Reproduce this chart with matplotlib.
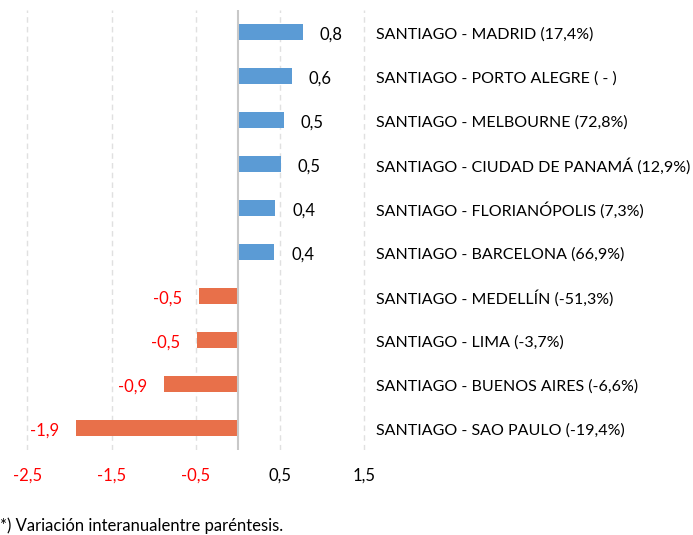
import matplotlib
matplotlib.use("Agg")
import matplotlib.pyplot as plt
import matplotlib.transforms as mtransforms

# rows top -> bottom
routes = ["SANTIAGO - MADRID (17,4%)", "SANTIAGO - PORTO ALEGRE ( - )",
          "SANTIAGO - MELBOURNE (72,8%)", "SANTIAGO - CIUDAD DE PANAMÁ (12,9%)",
          "SANTIAGO - FLORIANÓPOLIS (7,3%)", "SANTIAGO - BARCELONA (66,9%)",
          "SANTIAGO - MEDELLÍN (-51,3%)", "SANTIAGO - LIMA (-3,7%)",
          "SANTIAGO - BUENOS AIRES (-6,6%)", "SANTIAGO - SAO PAULO (-19,4%)"]
values = [0.77, 0.64, 0.54, 0.51, 0.44, 0.43, -0.46, -0.49, -0.88, -1.92]
xticks = [-2.5, -1.5, -0.5, 0.5, 1.5]

BLUE = "#5B9BD5"
ORANGE = "#E8704A"
RED = "#FF0000"
FS = 11.5

plt.rcParams["font.family"] = ["Lato", "DejaVu Sans"]

fig = plt.figure(figsize=(6.93, 5.35), dpi=100)
ax = fig.add_axes([0.0271, 0.1589, 0.511, 0.8224])

y = range(len(values))
colors = [BLUE if v >= 0 else ORANGE for v in values]
ax.barh(y, values, height=0.36, color=colors, zorder=2)

# route names sit at a fixed figure x, row-aligned in data y
route_tf = mtransforms.blended_transform_factory(fig.transFigure, ax.transData)
for i, v in enumerate(values):
    txt = f"{v:.1f}".replace(".", ",")
    if v >= 0:
        ax.annotate(txt, (v, i), xytext=(17, -3), textcoords="offset pixels",
                    ha="left", va="center", fontsize=FS + 0.5, color="black")
    else:
        ax.annotate(txt, (v, i), xytext=(-17, -3), textcoords="offset pixels",
                    ha="right", va="center", fontsize=FS + 0.5, color=RED)
    ax.text(376 / 693, i + 0.05, routes[i], transform=route_tf,
            fontsize=FS, ha="left", va="center")

ax.set_xlim(-2.6, 1.6)
ax.set_ylim(len(values) - 0.5, -0.5)
ax.set_xticks(xticks)
ax.set_xticklabels([f"{t:.1f}".replace(".", ",") for t in xticks], fontsize=FS + 0.5)
for lab, t in zip(ax.get_xticklabels(), xticks):
    lab.set_color(RED if t < 0 else "black")
ax.tick_params(axis="x", length=0, pad=13)
ax.set_yticks([])
for s in ax.spines.values():
    s.set_visible(False)
ax.grid(axis="x", color="#E0E0E0", linestyle=(0, (4, 3)), linewidth=1, zorder=0)
ax.axvline(0, color="#C8C8C8", linewidth=1.5, zorder=3)

fig.text(0.0, 1 / 535, "*) Variación interanualentre paréntesis.", fontsize=FS + 0.5,
         ha="left", va="bottom")

fig.savefig("out.png", dpi=100)
